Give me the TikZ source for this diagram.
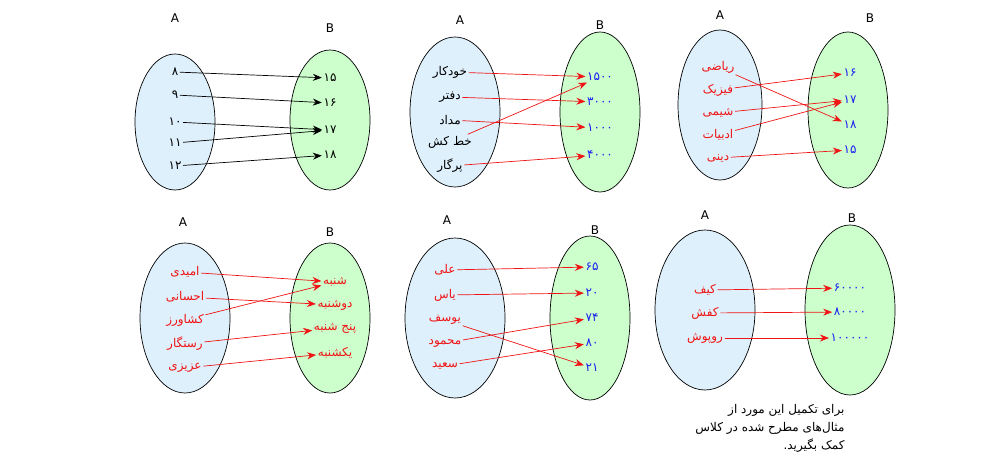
\documentclass[tikz,border=0pt]{standalone}
\usepackage{fontspec}
\usetikzlibrary{arrows.meta}
\setmainfont{DejaVu Sans}
\newfontfamily\arfont[Script=Arabic]{DejaVu Sans}
\TeXXeTstate=1
\newcommand{\fa}[1]{{\arfont\beginR #1\endR}}
\definecolor{afill}{RGB}{222,240,252}
\definecolor{bfill}{RGB}{204,255,204}
\definecolor{numblue}{RGB}{30,30,240}
\definecolor{ared}{RGB}{240,20,20}
\begin{document}
\begin{tikzpicture}[x=1pt,y=-1pt,font=\fontsize{12}{14}\selectfont,
 sa/.style={draw=black,fill=afill,line width=0.7pt},
 sb/.style={draw=black,fill=bfill,line width=0.7pt},
 t/.style={inner sep=1.5pt},
 r/.style={t,text=ared},
 bl/.style={t,text=numblue},
 ar/.style={-{Stealth[length=9pt,width=7pt]},ared,line width=0.7pt},
 ak/.style={-{Stealth[length=9pt,width=7pt]},black,line width=0.7pt}]
\useasboundingbox (0,0) rectangle (1000,473);
% panel 1
\draw[sa] (175,122) ellipse (40 and 68);
\draw[sb] (330,120) ellipse (40 and 70);
\node (la1) at (175,18) {A}; \node (lb1) at (330,28) {B};
\node[t] (p1a1) at (175,72) {\fa{۸}};
\node[t] (p1a2) at (175,95) {\fa{۹}};
\node[t] (p1a3) at (175,122) {\fa{۱۰}};
\node[t] (p1a4) at (175,143) {\fa{۱۱}};
\node[t] (p1a5) at (175,166) {\fa{۱۲}};
\node[t] (p1b1) at (330,78) {\fa{۱۵}};
\node[t] (p1b2) at (330,103) {\fa{۱۶}};
\node[t] (p1b3) at (330,130) {\fa{۱۷}};
\node[t] (p1b4) at (330,155) {\fa{۱۸}};
\draw[ak] (p1a1) -- (p1b1); \draw[ak] (p1a2) -- (p1b2);
\draw[ak] (p1a3) -- (p1b3); \draw[ak] (p1a4) -- (p1b3);
\draw[ak] (p1a5) -- (p1b4);
% panel 2
\draw[sa] (455,112) ellipse (45 and 75);
\draw[sb] (600,112) ellipse (40 and 80);
\node (la2) at (460,20) {A}; \node (lb2) at (600,25) {B};
\node[t] (p2a1) at (450,72) {\fa{خودکار}};
\node[t] (p2a2) at (450,97) {\fa{دفتر}};
\node[t] (p2a3) at (450,120) {\fa{مداد}};
\node[t] (p2a4) at (450,142) {\fa{خط کش}};
\node[t] (p2a5) at (450,166) {\fa{پرگار}};
\node[bl] (p2b1) at (600,77) {\fa{۱۵۰۰}};
\node[bl] (p2b2) at (600,102) {\fa{۳۰۰۰}};
\node[bl] (p2b3) at (600,128) {\fa{۱۰۰۰}};
\node[bl] (p2b4) at (600,155) {\fa{۴۰۰۰}};
\draw[ar] (p2a1) -- (p2b1); \draw[ar] (p2a2) -- (p2b2);
\draw[ar] (p2a3) -- (p2b3); \draw[ar] (p2a4) -- (p2b1);
\draw[ar] (p2a5) -- (p2b4);
% panel 3
\draw[sa] (720,105) ellipse (42 and 75);
\draw[sb] (848,110) ellipse (40 and 78);
\node (la3) at (720,15) {A}; \node (lb3) at (870,18) {B};
\node[r] (p3a1) at (718,67) {\fa{ریاضی}};
\node[r] (p3a2) at (718,90) {\fa{فیزیک}};
\node[r] (p3a3) at (718,113) {\fa{شیمی}};
\node[r] (p3a4) at (718,135) {\fa{ادبیات}};
\node[r] (p3a5) at (718,158) {\fa{دینی}};
\node[bl] (p3b1) at (850,73) {\fa{۱۶}};
\node[bl] (p3b2) at (850,100) {\fa{۱۷}};
\node[bl] (p3b3) at (850,125) {\fa{۱۸}};
\node[bl] (p3b4) at (850,150) {\fa{۱۵}};
\draw[ar] (p3a1) -- (p3b3); \draw[ar] (p3a2) -- (p3b1);
\draw[ar] (p3a3) -- (p3b2); \draw[ar] (p3a4) -- (p3b2);
\draw[ar] (p3a5) -- (p3b4);
% panel 4
\draw[sa] (185,318) ellipse (45 and 75);
\draw[sb] (330,318) ellipse (40 and 75);
\node (la4) at (183,222) {A}; \node (lb4) at (330,232) {B};
\node[r] (p4a1) at (185,272) {\fa{امیدی}};
\node[r] (p4a2) at (185,297) {\fa{احسانی}};
\node[r] (p4a3) at (185,320) {\fa{کشاورز}};
\node[r] (p4a4) at (185,344) {\fa{رستگار}};
\node[r] (p4a5) at (185,368) {\fa{عزیزی}};
\node[r] (p4b1) at (335,282) {\fa{شنبه}};
\node[r] (p4b2) at (335,305) {\fa{دوشنبه}};
\node[r] (p4b3) at (335,328) {\fa{پنج شنبه}};
\node[r] (p4b4) at (335,353) {\fa{یکشنبه}};
\draw[ar] (p4a1) -- (p4b1); \draw[ar] (p4a2) -- (p4b2);
\draw[ar] (p4a3) -- (p4b1); \draw[ar] (p4a4) -- (p4b3);
\draw[ar] (p4a5) -- (p4b4);
% panel 5
\draw[sa] (455,318) ellipse (50 and 80);
\draw[sb] (590,318) ellipse (40 and 82);
\node (la5) at (447,220) {A}; \node (lb5) at (595,230) {B};
\node[r] (p5a1) at (445,270) {\fa{علی}};
\node[r] (p5a2) at (445,295) {\fa{یاس}};
\node[r] (p5a3) at (445,320) {\fa{یوسف}};
\node[r] (p5a4) at (445,343) {\fa{محمود}};
\node[r] (p5a5) at (445,366) {\fa{سعید}};
\node[bl] (p5b1) at (592,267) {\fa{۶۵}};
\node[bl] (p5b2) at (592,293) {\fa{۲۰}};
\node[bl] (p5b3) at (592,318) {\fa{۷۴}};
\node[bl] (p5b4) at (592,343) {\fa{۸۰}};
\node[bl] (p5b5) at (592,368) {\fa{۲۱}};
\draw[ar] (p5a1) -- (p5b1); \draw[ar] (p5a2) -- (p5b2);
\draw[ar] (p5a3) -- (p5b5); \draw[ar] (p5a4) -- (p5b3);
\draw[ar] (p5a5) -- (p5b4);
% panel 6
\draw[sa] (705,310) ellipse (50 and 80);
\draw[sb] (850,310) ellipse (45 and 85);
\node (la6) at (705,215) {A}; \node (lb6) at (852,218) {B};
\node[r] (p6a1) at (705,290) {\fa{کیف}};
\node[r] (p6a2) at (705,313) {\fa{کفش}};
\node[r] (p6a3) at (705,338) {\fa{روپوش}};
\node[bl] (p6b1) at (850,288) {\fa{۶۰۰۰۰}};
\node[bl] (p6b2) at (850,312) {\fa{۸۰۰۰۰}};
\node[bl] (p6b3) at (850,338) {\fa{۱۰۰۰۰۰}};
\draw[ar] (p6a1) -- (p6b1); \draw[ar] (p6a2) -- (p6b2);
\draw[ar] (p6a3) -- (p6b3);
\node[anchor=east,align=right] (cap) at (848,428) {\fa{برای تکمیل این مورد از}\\[4pt]\fa{مثال‌های مطرح شده در کلاس}\\[4pt]\fa{کمک بگیرید.}};
\end{tikzpicture}
\end{document}
